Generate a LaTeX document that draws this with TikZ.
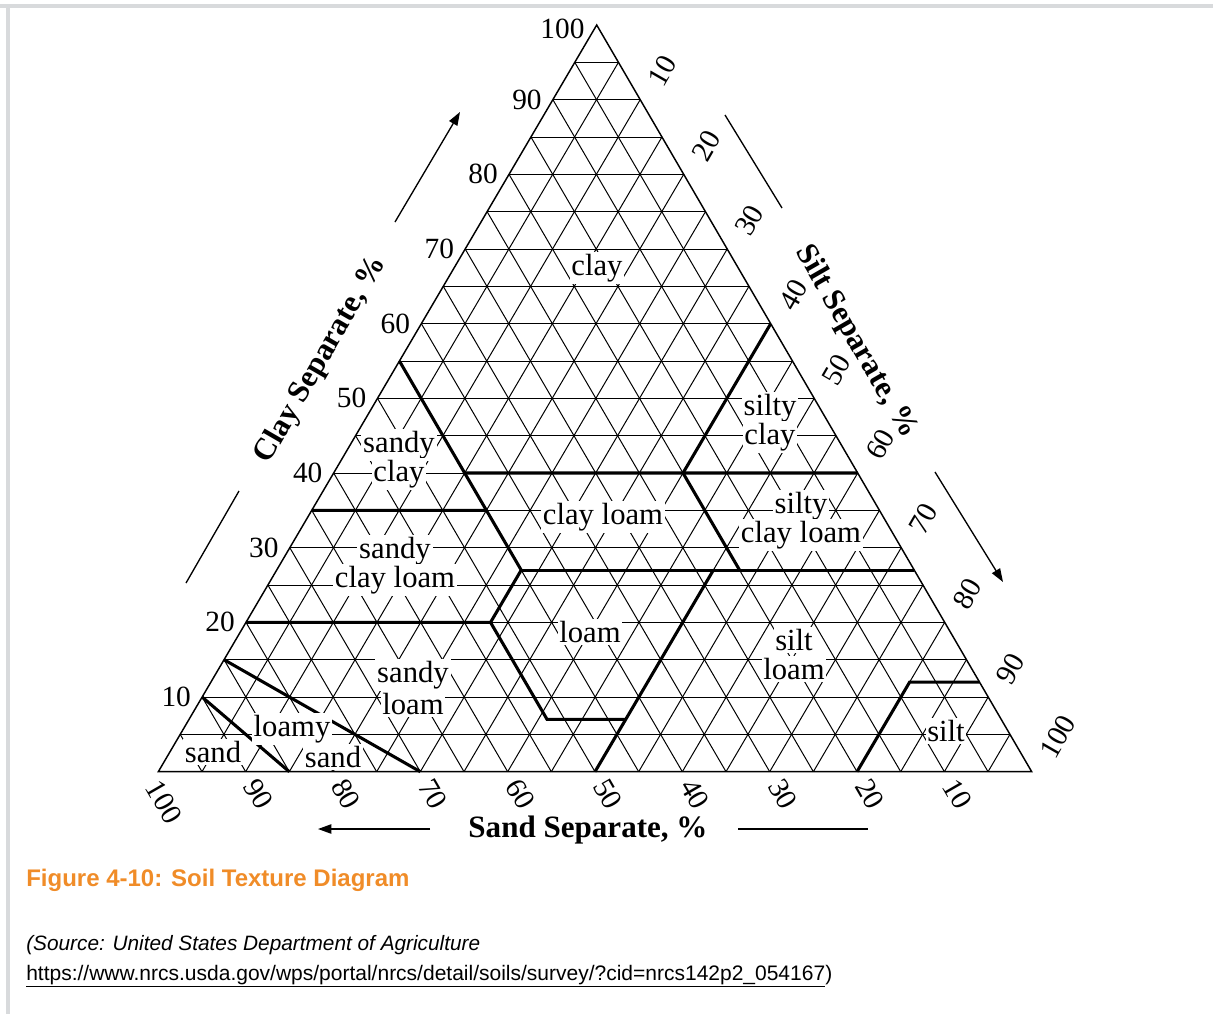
\documentclass[tikz,border=0pt]{standalone}
\usepackage{fontspec}
\setmainfont{Liberation Serif}
\newfontfamily\capsans{Liberation Sans}
\usetikzlibrary{arrows.meta,calc}
\definecolor{caporange}{RGB}{240,140,40}
\definecolor{framegray}{RGB}{216,218,220}
\begin{document}
\begin{tikzpicture}[x=0.75pt,y=-0.75pt,
  gridline/.style={line width=0.75pt,black},
  outline/.style={line width=1.1pt,black},
  bound/.style={line width=2.3pt,black},
  region/.style={fill=white,inner sep=1.3pt,font=\fontsize{23}{23}\selectfont},
  axnum/.style={inner sep=0pt,font=\fontsize{22}{22}\selectfont},
  axtitle/.style={inner sep=0pt,font=\bfseries\fontsize{23.3}{23.3}\selectfont},
  axline/.style={line width=1pt,black},
  axarrow/.style={line width=1pt,black,-{Triangle[length=10pt,width=7pt]}},
  ]
\useasboundingbox (0,0) rectangle (1213,1014);
\fill[framegray] (0,4) rectangle (1213,7.5);
\fill[framegray] (6,4) rectangle (10,1014);

\coordinate (A) at (158.3,771.7);
\coordinate (B) at (1031.7,771.7);
\coordinate (C) at (596.7,25);

% grid every 5 %
\foreach \vi in {5,10,...,95}{
  \pgfmathsetmacro\wi{\vi/100}
  \pgfmathsetmacro\wj{1-\vi/100}
  \draw[gridline] (barycentric cs:A=\wj,C=\wi) -- (barycentric cs:B=\wj,C=\wi);
  \draw[gridline] (barycentric cs:A=\wi,B=\wj) -- (barycentric cs:A=\wi,C=\wj);
  \draw[gridline] (barycentric cs:B=\wi,A=\wj) -- (barycentric cs:B=\wi,C=\wj);
}
\draw[outline] (A) -- (B) -- (C) -- cycle;

% texture class boundaries (sand/clay/silt)
\foreach \n/\vs/\vc/\vt in {p1/.85/0/.15,p2/.90/.10/0,p3/.70/0/.30,p4/.85/.15/0,
  p5/.80/.20/0,p6/.52/.20/.28,p7/.52/.07/.41,p8/.43/.07/.50,p9/.50/0/.50,p10/.23/.27/.50,
  p11/.45/.27/.28,p12/.45/.55/0,p13/.65/.35/0,p14/.45/.35/.20,p15/.45/.40/.15,p16/0/.40/.60,
  p17/0/.60/.40,p18/.20/.40/.40,p19/.20/.27/.53,p20/0/.27/.73,p21/.20/0/.80,p22/.08/.12/.80,p23/0/.12/.88}
  \coordinate (\n) at (barycentric cs:A=\vs,C=\vc,B=\vt);

\draw[bound] (p1) -- (p2);
\draw[bound] (p3) -- (p4);
\draw[bound] (p5) -- (p6) -- (p7) -- (p8);
\draw[bound] (p9) -- (p10);
\draw[bound] (p6) -- (p11);
\draw[bound] (p12) -- (p11);
\draw[bound] (p13) -- (p14);
\draw[bound] (p15) -- (p16);
\draw[bound] (p17) -- (p18) -- (p19);
\draw[bound] (p11) -- (p20);
\draw[bound] (p21) -- (p22) -- (p23);

% axis numbers
\foreach \vc in {10,20,...,90}{
  \pgfmathsetmacro\wc{\vc/100}
  \pgfmathsetmacro\ws{1-\vc/100}
  \node[axnum,anchor=east] (cl\vc) at ($(barycentric cs:A=\ws,C=\wc)+(-11,0)$) {\vc};
}
\node[axnum,anchor=east] (cl100) at ($(C)+(-12,4)$) {100};
\foreach \vt in {10,20,...,100}{
  \pgfmathsetmacro\wt{\vt/100}
  \pgfmathsetmacro\wc{1-\vt/100}
  \node[axnum,rotate=60,anchor=west] (si\vt) at ($(barycentric cs:B=\wt,C=\wc)+(14.9,-15.6)$) {\vt};
}
\foreach \vs in {10,20,...,90}{
  \pgfmathsetmacro\ws{\vs/100}
  \pgfmathsetmacro\wt{1-\vs/100}
  \node[axnum,rotate=-60,anchor=west] (sa\vs) at ($(barycentric cs:A=\ws,B=\wt)+(5.5,9.5)$) {\vs};
}
\node[axnum,rotate=-60] (sa100) at (164,802) {100};

% axis titles and arrows
\node[axtitle,rotate=60] (cltitle) at (321,360) {Clay Separate, \%};
\node[axtitle,rotate=-60] (sititle) at (856,342) {Silt Separate, \%};
\node[axtitle,anchor=base] (satitle) at (588,837) {Sand Separate, \%};

\coordinate (la1) at (395,222);
\coordinate (la2) at (460,112);
\coordinate (ll1) at (186,583);
\coordinate (ll2) at (239,491);
\draw[axarrow] (la1) -- (la2);
\draw[axline] (ll1) -- (ll2);

\coordinate (ra1) at (935,472);
\coordinate (ra2) at (1003,582);
\coordinate (rl1) at (725,115);
\coordinate (rl2) at (782,208);
\draw[axarrow] (ra1) -- (ra2);
\draw[axline] (rl1) -- (rl2);

\coordinate (ba1) at (430,829);
\coordinate (ba2) at (318,829);
\coordinate (bl1) at (738,829);
\coordinate (bl2) at (868,829);
\draw[axarrow] (ba1) -- (ba2);
\draw[axline] (bl1) -- (bl2);

% region labels
\node[region] (rclay) at (597,268) {clay};
\node[region] (rsc1) at (770,408) {silty};
\node[region] (rsc2) at (770,437) {clay};
\node[region] (rsac1) at (399,445) {sandy};
\node[region] (rsac2) at (399,474) {clay};
\node[region] (rcl) at (603,517) {clay loam};
\node[region] (rscl1) at (801,506) {silty};
\node[region] (rscl2) at (801,535) {clay loam};
\node[region] (rsacl1) at (395,551) {sandy};
\node[region] (rsacl2) at (395,580) {clay loam};
\node[region] (rloam) at (590,632) {loam};
\node[region] (rsil1) at (794,640) {silt};
\node[region] (rsil2) at (794,669) {loam};
\node[region] (rsl1) at (413,675) {sandy};
\node[region] (rsl2) at (413,704) {loam};
\node[region] (rls1) at (292,729) {loamy};
\node[region] (rls2) at (333,757) {sand};
\node[region] (rsand) at (213,752) {sand};
\node[region] (rsilt) at (946,731) {silt};

% caption
\node[anchor=base west,inner sep=0pt,text=caporange,font=\capsans\bfseries\fontsize{18}{18}\selectfont] (cap) at (26,886) {Figure 4-10: Soil Texture Diagram};
\node[anchor=base west,inner sep=0pt,font=\capsans\itshape\fontsize{15.6}{15.6}\selectfont] (src) at (26,950) {(Source: United States Department of Agriculture};
\node[anchor=base west,inner sep=0pt,font=\capsans\fontsize{15.75}{15.75}\selectfont] (url) at (26,980) {\underline{https://www.nrcs.usda.gov/wps/portal/nrcs/detail/soils/survey/?cid=nrcs142p2\_054167})};
\end{tikzpicture}
\end{document}
